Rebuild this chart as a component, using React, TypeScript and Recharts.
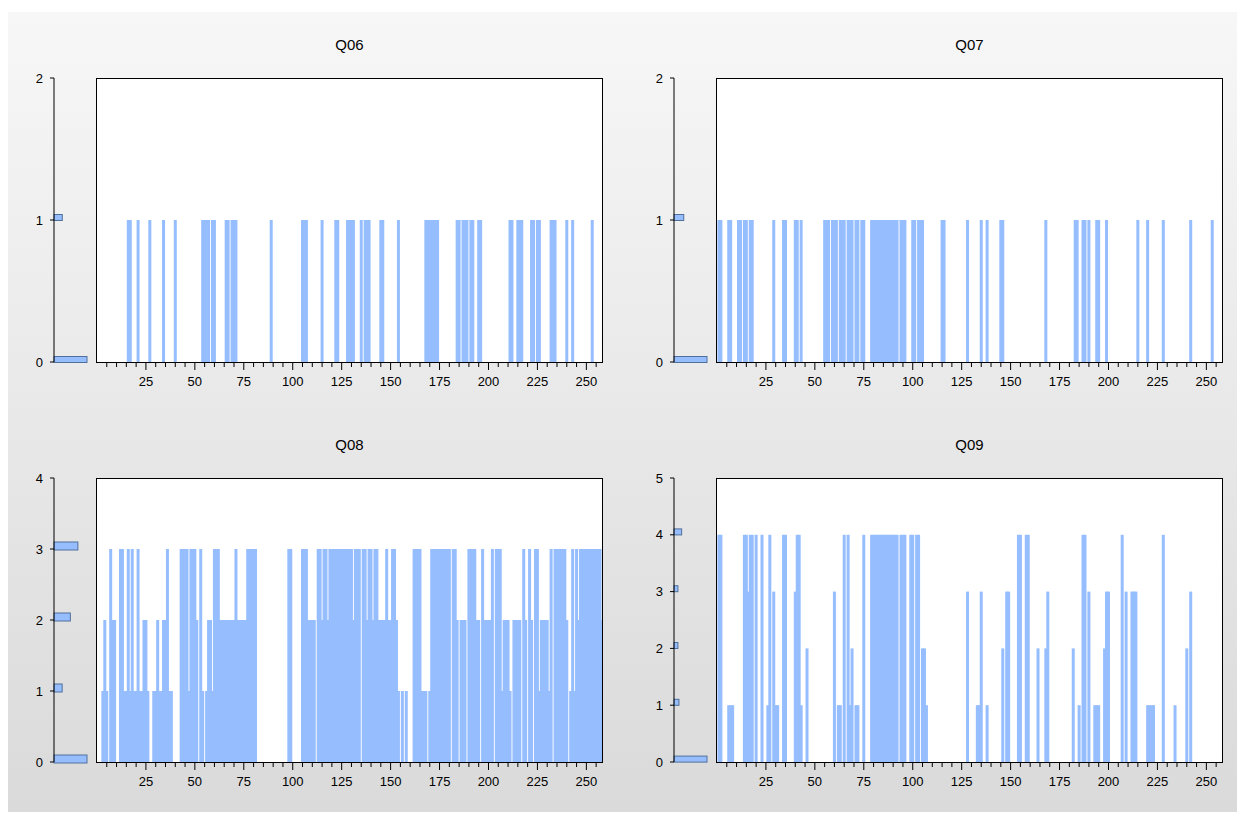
import { Bar, BarChart, XAxis, YAxis } from 'recharts';

// Observation values, one string per block of ten observations (obs 0..258).
const Q06_ROWS = [
  '0000000000', '0000001100', '0100000100', '0000100000', '1000000000',
  '0000111101', '1000001101', '1100000000', '0000000001', '0000000000',
  '0000011100', '0000010000', '0011000011', '1100010111', '0000011000',
  '0000100000', '0000000011', '1111100000', '0000110111', '0110011000',
  '0000000000', '0110011100', '0011011000', '0011100000', '1001000000',
  '000100000',
];

const Q07_ROWS = [
  '0110001100', '0110110110', '0000000001', '0000110000', '1101000000',
  '0000011101', '1101110111', '0110110001', '1111111111', '1110111000',
  '1101110000', '0000011000', '0000000010', '0000010010', '0000011000',
  '0000000000', '0000000010', '0000000000', '0001100110', '1000110001',
  '0000000000', '0000010000', '1000000010', '0000000000', '0010000000',
  '000100000',
];

const Q08_ROWS = [
  '0001210322', '0033113131', '1311221001', '1211223110', '0003333133',
  '3203101221', '3332222222', '2322222333', '3300000000', '0000000033',
  '0000033322', '2203323323', '3333333333', '3233303323', '3233222232',
  '2332101010', '0033331110', '1333333333', '3033202220', '3333220322',
  '2230333122', '2102222032', '0320331222', '2130333333', '2013132333',
  '333333332',
];

const Q09_ROWS = [
  '0440001110', '0000443440', '4004001403', '1100440000', '3441002000',
  '0000000000', '3011040412', '0110040004', '4444444444', '4440444004',
  '4044022100', '0000000000', '0000000030', '0001130010', '0000002033',
  '0000440044', '0000200023', '0000000000', '0020010440', '3001110023',
  '3000000403', '0033300000', '1111000040', '0000100000', '2030000000',
  '000000000',
];

// frequency of each response value (0, 1, 2, ...) shown in the side histograms
const Q06_HIST = [207, 52];
const Q07_HIST = [200, 59];
const Q08_HIST = [105, 26, 52, 76];
const Q09_HIST = [160, 24, 19, 19, 37];

const Y_TICKS_2 = [0, 1, 2];
const Y_TICKS_4 = [0, 1, 2, 3, 4];
const Y_TICKS_5 = [0, 1, 2, 3, 4, 5];

const BOX_W = 507;
const BOX_H = 284;
const HIST_W = 42;
const BAR_BLUE = '#96BEFF';
const FONT = "'Liberation Sans', Arial, sans-serif";

type PanelSpec = {
  title: string;
  rows: string[];
  hist: number[];
  yTicks: number[];
  left: number;
  top: number;
  histThick: number;
};

const PANELS: PanelSpec[] = [
  { title: 'Q06', rows: Q06_ROWS, hist: Q06_HIST, yTicks: Y_TICKS_2, left: 96, top: 78, histThick: 6 },
  { title: 'Q07', rows: Q07_ROWS, hist: Q07_HIST, yTicks: Y_TICKS_2, left: 716, top: 78, histThick: 6 },
  { title: 'Q08', rows: Q08_ROWS, hist: Q08_HIST, yTicks: Y_TICKS_4, left: 96, top: 478, histThick: 8 },
  { title: 'Q09', rows: Q09_ROWS, hist: Q09_HIST, yTicks: Y_TICKS_5, left: 716, top: 478, histThick: 6 },
];

const toSeries = (rows: string[]) => rows.join('').split('').map(Number);

function ObsTick(props: any) {
  const { x, y, payload } = props;
  const obs = Number(payload.value);
  if (obs === 0 || obs % 5 !== 0) return null;
  const major = obs % 25 === 0;
  return (
    <g>
      <line x1={x} x2={x} y1={y} y2={y + (major ? 8 : 5)} stroke="#000" />
      {major && (
        <text x={x} y={y + 24} textAnchor="middle" fontSize={13} fontFamily={FONT} fill="#000">
          {obs}
        </text>
      )}
    </g>
  );
}

// spikes are drawn one pixel wider than their slot
function Spike(props: any) {
  const { x, y, width, height } = props;
  if (!height || height <= 0) return null;
  return <rect x={x + width / 2 - 1.5} y={y} width={3} height={height} fill={BAR_BLUE} />;
}

// histogram bars sit just above their value line
function HistBar(props: any) {
  const { x, y, width, height } = props;
  if (!width || width <= 0) return null;
  return (
    <rect
      x={x}
      y={y - height / 2 + 0.5}
      width={width}
      height={height}
      fill={BAR_BLUE}
      stroke="#50709C"
      strokeWidth={1}
    />
  );
}

function Panel({ spec }: { spec: PanelSpec }) {
  const values = toSeries(spec.rows);
  const data = values.map((v, i) => ({ obs: i, v }));
  const maxY = spec.yTicks[spec.yTicks.length - 1];
  const hist = spec.hist.map((n, level) => ({ level, n }));
  const maxN = Math.max(...spec.hist);

  return (
    <>
      <div
        style={{
          position: 'absolute',
          left: spec.left,
          top: spec.top - 42,
          width: BOX_W,
          textAlign: 'center',
          fontFamily: FONT,
          fontSize: 15,
          color: '#000',
        }}
      >
        {spec.title}
      </div>

      <div style={{ position: 'absolute', left: spec.left - HIST_W - 36, top: spec.top - 10 }}>
        <BarChart
          width={HIST_W + 36}
          height={BOX_H + 20}
          data={hist}
          layout="vertical"
          margin={{ top: 10, right: 0, bottom: 10, left: 0 }}
        >
          <XAxis type="number" dataKey="n" hide domain={[0, (maxN * HIST_W) / 33]} />
          <YAxis
            type="number"
            dataKey="level"
            domain={[0, maxY]}
            reversed
            ticks={spec.yTicks}
            interval={0}
            width={36}
            axisLine={{ stroke: '#000' }}
            tickLine={{ stroke: '#000' }}
            tickSize={4}
            tickMargin={7}
            tick={{ fontSize: 13, fill: '#000', fontFamily: FONT }}
          />
          <Bar dataKey="n" barSize={spec.histThick} shape={HistBar} isAnimationActive={false} />
        </BarChart>
      </div>

      <div
        style={{
          position: 'absolute',
          left: spec.left,
          top: spec.top,
          width: BOX_W,
          height: BOX_H,
          background: '#fff',
        }}
      />

      <div style={{ position: 'absolute', left: spec.left, top: spec.top }}>
        <BarChart
          width={BOX_W}
          height={BOX_H + 34}
          data={data}
          barCategoryGap={0}
          barGap={0}
          margin={{ top: 0, right: 0, bottom: 0, left: 0 }}
        >
          <XAxis
            dataKey="obs"
            type="category"
            interval={0}
            height={34}
            axisLine={false}
            tickLine={false}
            tickSize={0}
            tickMargin={0}
            tick={ObsTick}
          />
          <YAxis hide domain={[0, maxY]} />
          <Bar dataKey="v" barSize={1.95} shape={Spike} isAnimationActive={false} />
        </BarChart>
      </div>

      <div
        style={{
          position: 'absolute',
          left: spec.left,
          top: spec.top,
          width: BOX_W,
          height: BOX_H + 1,
          border: '1px solid #000',
          boxSizing: 'border-box',
          pointerEvents: 'none',
        }}
      />
    </>
  );
}

export default function App() {
  return (
    <div style={{ position: 'absolute', left: 0, top: 0, width: 1245, height: 820, background: '#fff' }}>
      <div
        style={{
          position: 'absolute',
          left: 8,
          top: 12,
          width: 1229,
          height: 800,
          background: 'linear-gradient(to bottom, #f7f7f7, #dadada)',
        }}
      />
      {PANELS.map((p) => (
        <Panel key={p.title} spec={p} />
      ))}
    </div>
  );
}
